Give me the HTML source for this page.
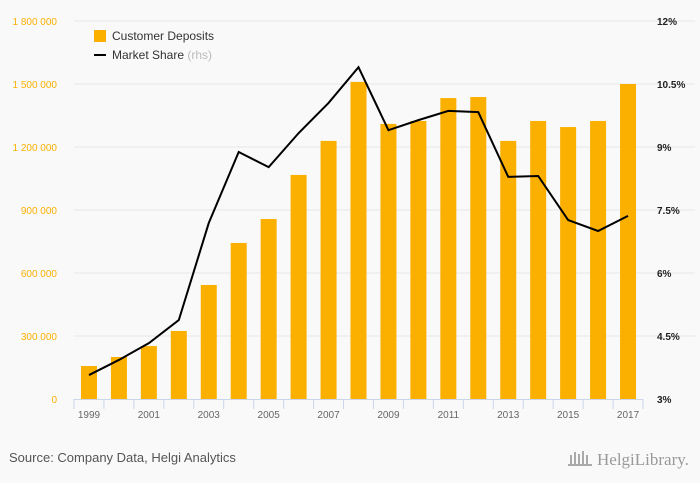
<!DOCTYPE html>
<html><head><meta charset="utf-8"><style>
body{margin:0;background:#f9f9f9;font-family:"Liberation Sans",sans-serif;}
svg{display:block}
</style></head><body>
<svg id="c" width="700" height="483" xmlns="http://www.w3.org/2000/svg">
<rect width="700" height="483" fill="#f9f9f9"/>
<g id="grid"></g><g id="bars"></g><g id="axes"></g><g id="line"></g>
<g>
<rect x="94" y="30" width="12" height="12" fill="#fbb000"/>
<text x="112" y="40" font-size="12" fill="#333">Customer Deposits</text>
<line x1="94" y1="55" x2="106" y2="55" stroke="#000" stroke-width="2"/>
<text x="112" y="59" font-size="12" fill="#333">Market Share <tspan fill="#bbb">(rhs)</tspan></text>
</g>
<text x="9" y="462" font-size="13" fill="#555">Source: Company Data, Helgi Analytics</text>
<text x="597" y="465" font-size="17" fill="#999" font-family="Liberation Serif,serif">HelgiLibrary.</text>
<g fill="#aaa"><rect x="570" y="455" width="2" height="10"/><rect x="574" y="452" width="2" height="13"/><rect x="578" y="454" width="2" height="11"/><rect x="582" y="451" width="2" height="14"/><rect x="586" y="455" width="2" height="10"/><rect x="568" y="464" width="24" height="2"/></g>
</svg>
<script>
const years=[1999,2000,2001,2002,2003,2004,2005,2006,2007,2008,2009,2010,2011,2012,2013,2014,2015,2016,2017];
const deposits=[157000,200000,252000,324000,543000,743000,857000,1067000,1229000,1510000,1310000,1324000,1433000,1438000,1229000,1324000,1295000,1324000,1500000];
const share=[3.57,3.93,4.33,4.88,7.19,8.88,8.52,9.33,10.05,10.9,9.4,9.64,9.86,9.83,8.29,8.31,7.26,7.0,7.36];
const leftTicks=[0,300000,600000,900000,1200000,1500000,1800000];
const leftLabels=["0","300 000","600 000","900 000","1 200 000","1 500 000","1 800 000"];
const rightTicks=[3,4.5,6,7.5,9,10.5,12];
const rightLabels=["3%","4.5%","6%","7.5%","9%","10.5%","12%"];
const NS="http://www.w3.org/2000/svg";
const x0=74,x1=643,yB=399,yT=21;
const step=(x1-x0)/years.length;
const xc=i=>x0+step*(i+0.5);
const yL=v=>yB-(v/1800000)*(yB-yT);
const yR=v=>yB-((v-3)/9)*(yB-yT);
function mk(t,a,p){const e=document.createElementNS(NS,t);for(const k in a)e.setAttribute(k,a[k]);p.appendChild(e);return e;}
const grid=document.getElementById('grid'),axes=document.getElementById('axes'),bars=document.getElementById('bars'),line=document.getElementById('line');
leftTicks.forEach((v,i)=>{
 if(i>0){const g=mk('line',{x1:x0,x2:x1+52,y1:yL(v),y2:yL(v),stroke:'#e6e6e6'},grid);
 
 }
 const t=mk('text',{x:57,y:yL(v)+4,'text-anchor':'end','font-size':'10',fill:'#fbb000'},axes);t.textContent=leftLabels[i];
 
 
});
rightTicks.forEach((v,i)=>{
 const t=mk('text',{x:657,y:yR(v)+4,'font-size':'10',fill:'#222','font-weight':'bold'},axes);t.textContent=rightLabels[i];
 
 
});
const ax=mk('line',{x1:x0,x2:x1,y1:yB+0.5,y2:yB+0.5,stroke:'#ccd6eb'},axes);


for(let i=0;i<=years.length;i++){const tk=mk('line',{x1:x0+step*i,x2:x0+step*i,y1:yB,y2:yB+10,stroke:'#ccd6eb'},axes);
 
 }
years.forEach((y,i)=>{
 const b=mk('rect',{x:xc(i)-8,y:yL(deposits[i]),width:16,height:yB-yL(deposits[i]),fill:'#fbb000'},bars);
 
 
 if(i%2===0){const t=mk('text',{x:xc(i),y:418,'text-anchor':'middle','font-size':'10',fill:'#666'},axes);t.textContent=y;
 
 }
});
const p=mk('path',{d:share.map((v,i)=>(i?'L':'M')+xc(i)+','+yR(v)).join(''),fill:'none',stroke:'#000','stroke-width':2},line);


</script>
</body></html>
